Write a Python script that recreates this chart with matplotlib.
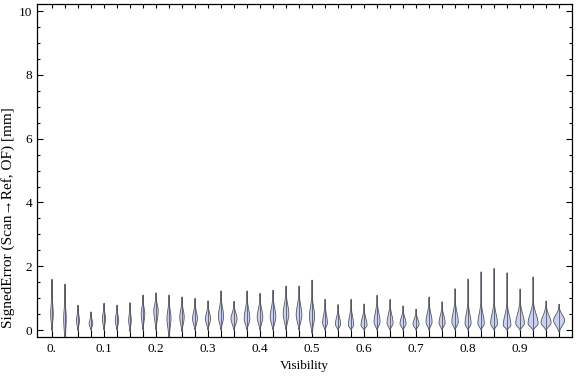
"""Violin chart of signed error against visibility."""

import matplotlib

matplotlib.use("Agg")
import matplotlib.pyplot as plt
import numpy as np
from matplotlib.ticker import FixedLocator, MultipleLocator

plt.rcParams["font.family"] = ["Liberation Serif", "DejaVu Serif"]

# visibility bins (violin centres)
visibility = [i / 40 for i in range(40)]

# upper end of each violin [mm]
err_max = [
    1.59, 1.44, 0.78, 0.57, 0.84, 0.78, 0.86, 1.10, 1.17, 1.10,
    1.04, 0.99, 0.92, 1.23, 0.90, 1.23, 1.15, 1.25, 1.38, 1.38,
    1.57, 0.96, 0.80, 0.96, 0.82, 1.09, 0.96, 0.76, 0.66, 1.04,
    0.89, 1.30, 1.60, 1.83, 1.93, 1.80, 1.29, 1.67, 0.91, 0.81,
]
# lower end of each violin [mm]
err_min = [
    -0.02, -0.40, -0.02, 0.00, 0.00, 0.00, -0.05, 0.00, 0.00, -0.25,
    -0.05, 0.00, 0.00, 0.00, 0.00, 0.00, 0.00, 0.00, 0.00, 0.00,
    -0.10, 0.00, 0.00, 0.00, 0.00, 0.00, 0.00, 0.00, 0.00, 0.00,
    0.00, 0.00, 0.00, 0.00, 0.00, 0.00, 0.00, 0.00, 0.00, -0.05,
]
# most frequent error (density peak) [mm]
err_mode = [
    0.50, 0.35, 0.30, 0.20, 0.35, 0.30, 0.30, 0.50, 0.60, 0.37,
    0.40, 0.35, 0.35, 0.42, 0.35, 0.35, 0.40, 0.40, 0.50, 0.47,
    0.42, 0.22, 0.18, 0.15, 0.15, 0.25, 0.22, 0.20, 0.18, 0.25,
    0.22, 0.25, 0.20, 0.20, 0.20, 0.15, 0.20, 0.20, 0.22, 0.30,
]
# peak density (relative violin half width)
peak_density = [
    1.3, 1.3, 1.5, 1.8, 1.6, 1.7, 1.3, 1.8, 2.2, 2.0,
    2.2, 2.4, 2.5, 2.6, 3.0, 2.8, 2.8, 2.8, 2.8, 2.8,
    2.6, 2.4, 2.6, 2.6, 3.0, 3.0, 3.0, 3.0, 3.0, 3.0,
    3.0, 3.2, 3.0, 3.2, 3.4, 3.8, 4.3, 5.0, 5.0, 5.5,
]

fig = plt.figure(figsize=(5.76, 3.77), dpi=100)
ax = fig.add_axes([0.0642, 0.106, 0.929, 0.883])

px = 1 / 520  # one pixel in x data units
edge = "#55555e"
for x, lo, hi, m, d in zip(visibility, err_min, err_max, err_mode, peak_density):
    y = np.linspace(lo, hi, 300)
    s_lo = max(m - lo, 0.05) / 2.2
    s_hi = min(max(hi - m, 0.05) / 3.0, 0.3)
    s = np.where(y < m, s_lo, s_hi)
    w = d * px * np.exp(-0.5 * ((y - m) / s) ** 2)
    xs = np.concatenate([x - w, (x + w)[::-1]])
    ys = np.concatenate([y, y[::-1]])
    ax.fill(xs, ys, facecolor="#c9d1f3", edgecolor=edge, linewidth=0.6,
            zorder=3)
    ax.plot([x, x], [lo, hi], color=edge, linewidth=0.6, zorder=3)

ax.set_xlim(-0.0288, 1.0)
ax.set_ylim(-0.22, 10.22)

ax.xaxis.set_major_locator(FixedLocator(visibility))
ax.set_xticklabels(
    ["0." if i == 0 else (f"{v:.1f}" if i % 4 == 0 else "") for i, v in enumerate(visibility)]
)
ax.yaxis.set_major_locator(MultipleLocator(2))
ax.yaxis.set_minor_locator(MultipleLocator(0.5))

ax.tick_params(axis="x", which="major", direction="in", length=5, width=0.8,
               top=True, labelsize=9.5, pad=4)
ax.tick_params(axis="y", which="major", direction="in", length=4, width=0.8,
               right=True, labelsize=9.5)
ax.tick_params(axis="y", which="minor", direction="in", length=2.2, width=0.8,
               right=True)
for t in ax.xaxis.get_major_ticks():
    t.tick2line.set_markersize(3)
for spine in ax.spines.values():
    spine.set_linewidth(0.9)

ax.set_xlabel("Visibility", fontsize=9.5, labelpad=4)
ax.set_ylabel("SignedError (Scan\u2192Ref, OF) [mm]", fontsize=11)
ax.yaxis.set_label_coords(-0.042, 0.36)

fig.savefig("out.png", dpi=100)
